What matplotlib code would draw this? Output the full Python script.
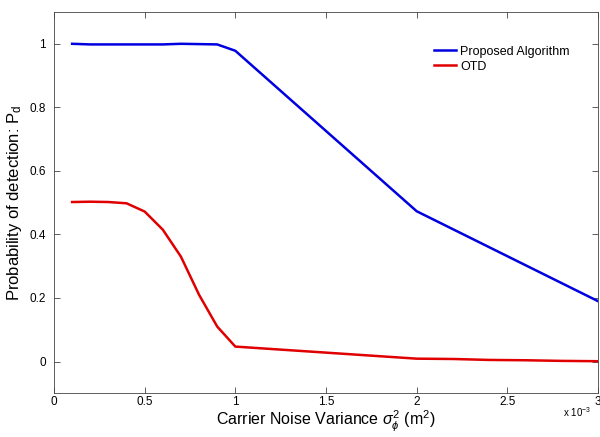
import numpy as np
import matplotlib
matplotlib.use('Agg')
import matplotlib.pyplot as plt

plt.rcParams['font.family'] = ['Liberation Sans', 'DejaVu Sans']
plt.rcParams['mathtext.fontset'] = 'custom'
plt.rcParams['mathtext.rm'] = 'Liberation Sans'
plt.rcParams['mathtext.it'] = 'Liberation Sans:italic'

# carrier noise variance (x 1e-3)
x_prop = [0.1, 0.2, 0.3, 0.4, 0.5, 0.6, 0.7, 0.8, 0.9, 1.0, 2.0, 3.0]
pd_prop = [1.0, 0.998, 0.998, 0.998, 0.998, 0.998, 1.0, 0.999, 0.998, 0.978, 0.473, 0.19]

x_otd = [0.1, 0.2, 0.3, 0.4, 0.5, 0.6, 0.7, 0.8, 0.9, 1.0, 2.0, 2.2, 2.4, 2.6, 2.8, 3.0]
pd_otd = [0.502, 0.503, 0.502, 0.498, 0.472, 0.415, 0.33, 0.21, 0.11, 0.047,
          0.009, 0.008, 0.005, 0.004, 0.002, 0.001]

fig = plt.figure(figsize=(6, 4.37), dpi=100)
ax = fig.add_axes([0.09, 0.1, 0.9067, 0.8725])

ax.plot(x_prop, pd_prop, color='#0000e0', lw=1.8, label='Proposed Algorithm')
ax.plot(x_otd, pd_otd, color='#e00000', lw=1.8, label='OTD')

ax.set_xlim(0, 3)
ax.set_ylim(-0.1, 1.1)
ax.set_xticks([0, 0.5, 1, 1.5, 2, 2.5, 3])
ax.set_xticklabels(['0', '0.5', '1', '1.5', '2', '2.5', '3'])
ax.set_yticks([0, 0.2, 0.4, 0.6, 0.8, 1])
ax.set_yticklabels(['0', '0.2', '0.4', '0.6', '0.8', '1'])
ax.tick_params(direction='in', top=True, right=True, labelsize=8.5, length=4,
               width=0.6, color='#444444')
ax.tick_params(axis='x', pad=2)
ax.tick_params(axis='y', pad=6)
for s in ax.spines.values():
    s.set_linewidth(0.6)
    s.set_color('#444444')

ax.set_xlabel(r'Carrier Noise Variance $\sigma_\phi^2$ (m$^2$)', fontsize=11.5, labelpad=0.5)
ax.set_ylabel(r'Probability of detection: P$_\mathrm{d}$', fontsize=12, labelpad=4)

ax.text(0.988, -0.03, r'x 10$^{-3}$', transform=ax.transAxes, fontsize=7,
        ha='right', va='top')

ax.legend(loc='upper left', bbox_to_anchor=(0.69, 0.925), frameon=False,
          fontsize=9, handlelength=1.75, handletextpad=0.3, labelspacing=0.25,
          borderaxespad=0)

fig.savefig('out.png', dpi=100)
